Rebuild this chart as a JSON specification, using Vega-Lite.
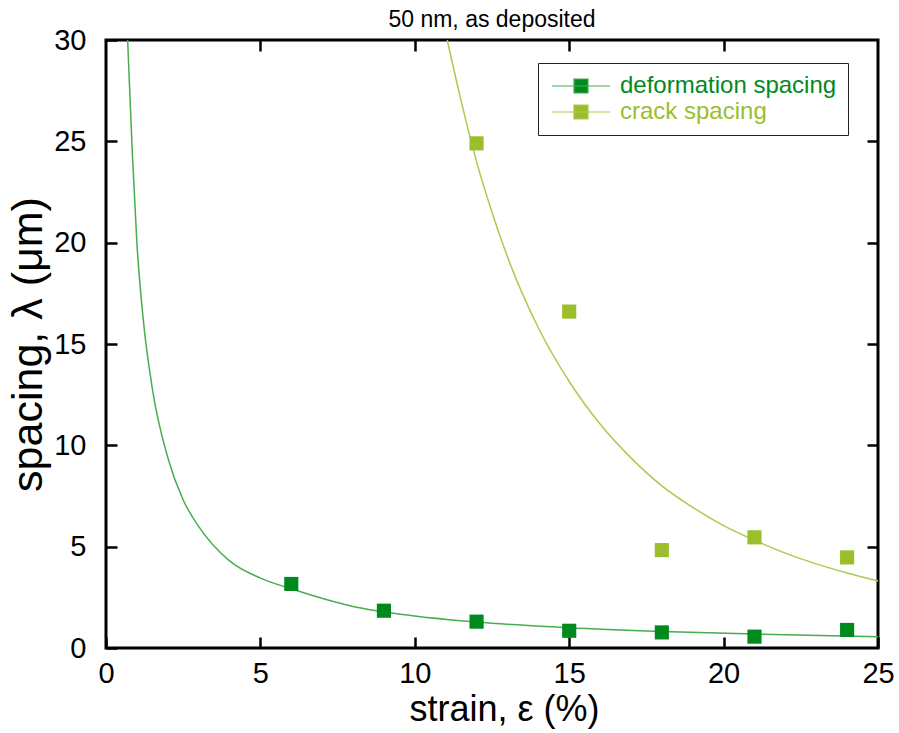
{
  "$schema": "https://vega.github.io/schema/vega-lite/v6.json",
  "autosize": "none",
  "width": 772,
  "height": 608,
  "padding": {"left": 106, "top": 40, "right": 21, "bottom": 85},
  "background": "white",
  "config": {
    "view": {"stroke": "black", "strokeWidth": 3},
    "font": "Liberation Sans",
    "axis": {
      "domain": false,
      "grid": false,
      "tickColor": "black",
      "tickWidth": 2.5,
      "tickSize": -11,
      "labelFlush": false,
      "labelFont": "Liberation Sans",
      "labelFontSize": 29,
      "labelColor": "black",
      "titleFont": "Liberation Sans",
      "titleFontWeight": "normal",
      "titleColor": "black"
    }
  },
  "title": {
    "text": "50 nm, as deposited",
    "font": "Liberation Sans",
    "fontSize": 23,
    "fontWeight": "normal",
    "color": "black",
    "offset": -6
  },
  "datasets": {
    "points": [
      {"strain": 6, "spacing": 3.16, "series": "deformation spacing"},
      {"strain": 9, "spacing": 1.84, "series": "deformation spacing"},
      {"strain": 12, "spacing": 1.3, "series": "deformation spacing"},
      {"strain": 15, "spacing": 0.85, "series": "deformation spacing"},
      {"strain": 18, "spacing": 0.77, "series": "deformation spacing"},
      {"strain": 21, "spacing": 0.56, "series": "deformation spacing"},
      {"strain": 24, "spacing": 0.89, "series": "deformation spacing"},
      {"strain": 12, "spacing": 24.9, "series": "crack spacing"},
      {"strain": 15, "spacing": 16.6, "series": "crack spacing"},
      {"strain": 18, "spacing": 4.83, "series": "crack spacing"},
      {"strain": 21, "spacing": 5.46, "series": "crack spacing"},
      {"strain": 24, "spacing": 4.47, "series": "crack spacing"}
    ],
    "curveDeformation": [
      {"strain": 0.7, "spacing": 30},
      {"strain": 0.85, "spacing": 24.5},
      {"strain": 1.0, "spacing": 20},
      {"strain": 1.2, "spacing": 16.3},
      {"strain": 1.5, "spacing": 12.8},
      {"strain": 2.0, "spacing": 9.4},
      {"strain": 2.5, "spacing": 7.3},
      {"strain": 3.0, "spacing": 6.0},
      {"strain": 4.0, "spacing": 4.3},
      {"strain": 5.0, "spacing": 3.45},
      {"strain": 6.0, "spacing": 2.92},
      {"strain": 8.0, "spacing": 2.05},
      {"strain": 10.0, "spacing": 1.58},
      {"strain": 12.0, "spacing": 1.28},
      {"strain": 15.0, "spacing": 1.0},
      {"strain": 18.0, "spacing": 0.82},
      {"strain": 21.0, "spacing": 0.69},
      {"strain": 25.0, "spacing": 0.56}
    ],
    "curveCrack": [
      {"strain": 11.05, "spacing": 30},
      {"strain": 11.5, "spacing": 27.0},
      {"strain": 12.0, "spacing": 24.0},
      {"strain": 12.5, "spacing": 21.5},
      {"strain": 13.0, "spacing": 19.3},
      {"strain": 14.0, "spacing": 15.8},
      {"strain": 15.0, "spacing": 13.15},
      {"strain": 16.0, "spacing": 11.05},
      {"strain": 17.0, "spacing": 9.38},
      {"strain": 18.0, "spacing": 8.0},
      {"strain": 19.0, "spacing": 6.94},
      {"strain": 20.0, "spacing": 6.04},
      {"strain": 21.0, "spacing": 5.32},
      {"strain": 22.0, "spacing": 4.68},
      {"strain": 23.0, "spacing": 4.15},
      {"strain": 24.0, "spacing": 3.7},
      {"strain": 25.0, "spacing": 3.31}
    ]
  },
  "layer": [
    {
      "data": {"name": "curveDeformation"},
      "mark": {"type": "line", "strokeWidth": 1.5, "interpolate": "monotone", "color": "#48AD50"},
      "encoding": {
        "x": {
          "field": "strain", "type": "quantitative",
          "scale": {"domain": [0, 25], "nice": false, "zero": false},
          "axis": {"orient": "bottom", "title": "strain, ε (%)", "titleFontSize": 36, "titleX": 398, "values": [0, 5, 10, 15, 20, 25], "labelPadding": 22, "titlePadding": 4}
        },
        "y": {
          "field": "spacing", "type": "quantitative",
          "scale": {"domain": [0, 30], "nice": false},
          "axis": {"orient": "left", "title": "spacing, λ (μm)", "titleFontSize": 43, "values": [0, 5, 10, 15, 20, 25, 30], "labelPadding": 31, "titlePadding": 3}
        }
      }
    },
    {
      "data": {"name": "curveCrack"},
      "mark": {"type": "line", "strokeWidth": 1.5, "interpolate": "monotone", "color": "#AACB4E"},
      "encoding": {
        "x": {"field": "strain", "type": "quantitative", "axis": null},
        "y": {"field": "spacing", "type": "quantitative", "axis": null}
      }
    },
    {
      "data": {"name": "points"},
      "mark": {"type": "point", "shape": "square", "filled": true, "size": 200, "opacity": 1},
      "encoding": {
        "x": {
          "field": "strain", "type": "quantitative",
          "axis": {"orient": "top", "title": null, "labels": false, "values": [5, 10, 15, 20]}
        },
        "y": {
          "field": "spacing", "type": "quantitative",
          "axis": {"orient": "right", "title": null, "labels": false, "values": [5, 10, 15, 20, 25]}
        },
        "color": {
          "field": "series", "type": "nominal",
          "scale": {"domain": ["deformation spacing", "crack spacing"], "range": ["#008A1E", "#9BBE2C"]},
          "legend": {
            "title": null,
            "orient": "none",
            "legendX": 432,
            "legendY": 23,
            "padding": 11,
            "strokeColor": "#222222",
            "fillColor": "white",
            "symbolType": "M-2.9,0H2.9M-0.7,-0.7H0.7V0.7H-0.7Z",
            "symbolSize": 400,
            "symbolOffset": 20,
            "symbolStrokeWidth": 1.2,
            "symbolStrokeColor": {"expr": "datum.value === 'crack spacing' ? '#AACB4E' : '#48AD50'"},
            "rowPadding": 2,
            "labelFont": "Liberation Sans",
            "labelFontSize": 24,
            "labelOffset": 27,
            "labelLimit": 400,
            "labelColor": {"expr": "datum.value === 'crack spacing' ? '#9BBE2C' : '#008A1E'"}
          }
        }
      }
    }
  ],
  "resolve": {"axis": {"x": "independent", "y": "independent"}}
}
